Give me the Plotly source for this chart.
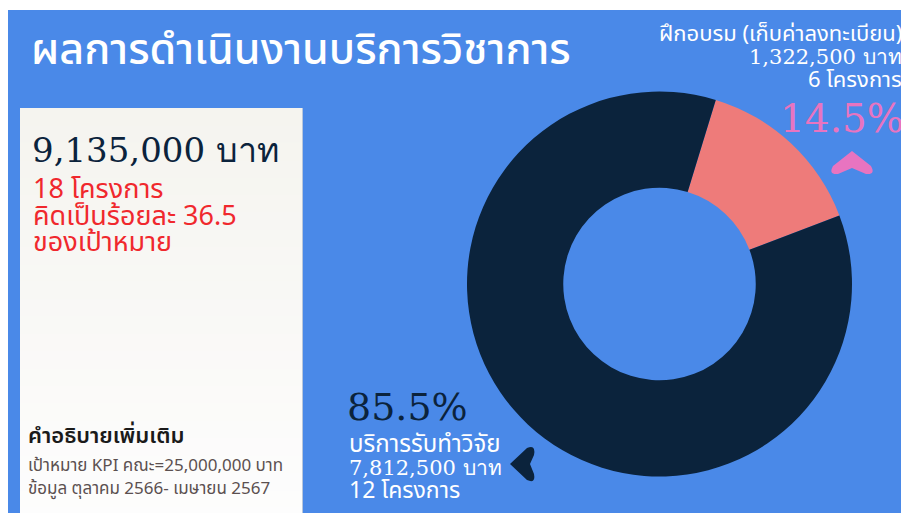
import plotly.graph_objects as go

# data
labels = ["ฝึกอบรม (เก็บค่าลงทะเบียน)", "บริการรับทำวิจัย"]
amounts = [1322500, 7812500]
projects = [6, 12]
slice_colors = ["#ee7b7a", "#0b233c"]
target = 25000000
pct_of_target = 36.5
period = "ตุลาคม 2566- เมษายน 2567"

W, H = 909, 513
OFF = 8  # page body margin, positions below are read in page pixels
BLUE = "#4a89e8"
NAVY = "#0b233c"
PINK = "#e874c0"
RED = "#f0282d"
THAI = "Noto Sans Thai, Noto Sans, sans-serif"
SLAB = "DejaVu Serif, serif"

total = sum(amounts)
shares = [a / total * 100 for a in amounts]


def px(x):
    return (x - OFF) / W


def py(y):
    return 1 - (y - OFF) / H


def path(points):
    # points in page pixels -> paper path
    out = []
    for cmd, *xy in points:
        coords = []
        for i in range(0, len(xy), 2):
            coords.append(f"{px(xy[i]):.5f},{py(xy[i + 1]):.5f}")
        out.append(cmd + " " + " ".join(coords))
    return " ".join(out) + " Z"


fig = go.Figure()

fig.add_trace(go.Pie(
    labels=labels,
    values=amounts,
    hole=0.5,
    sort=False,
    direction="clockwise",
    rotation=17,
    marker=dict(colors=slice_colors, line=dict(width=0)),
    textinfo="none",
    hoverinfo="label+value+percent",
    domain=dict(x=[px(467), px(852)], y=[py(477), py(91)]),
    showlegend=False,
))

shapes = [
    dict(type="rect", xref="paper", yref="paper", x0=0, x1=1, y0=py(10), y1=1,
         fillcolor="white", line_width=0, layer="below"),
]
# card with a soft vertical gradient (stacked bands, each running to the bottom)
n = 24
top, bottom = 108, 525
c0, c1 = (245, 244, 239), (253, 253, 253)
for i in range(n):
    t = i / (n - 1)
    col = tuple(round(c0[k] + (c1[k] - c0[k]) * t) for k in range(3))
    ya = top + (bottom - top) * i / n
    shapes.append(dict(type="rect", xref="paper", yref="paper",
                       x0=px(20), x1=px(302), y0=py(bottom), y1=py(ya),
                       fillcolor="rgb(%d,%d,%d)" % col, line_width=0, layer="below"))
shapes.append(dict(type="line", xref="paper", yref="paper", x0=px(302.5), x1=px(302.5),
                   y0=0, y1=py(108), line=dict(color="#b7c6dc", width=1), layer="below"))

# pointer marks
shapes.append(dict(type="path", xref="paper", yref="paper", fillcolor=PINK, line_width=0,
                   path=path([("M", 852, 151), ("L", 871, 166), ("Q", 876, 175, 866, 174),
                              ("L", 852, 168), ("L", 838, 174), ("Q", 828, 175, 833, 166)])))
shapes.append(dict(type="path", xref="paper", yref="paper", fillcolor=NAVY, line_width=0,
                   path=path([("M", 510, 464), ("L", 527, 448), ("Q", 536, 444, 534, 455),
                              ("L", 530, 464), ("L", 534, 474), ("Q", 536, 484, 527, 480)])))


def note(x, y, text, size, color, font=THAI, xanchor="left", weight="normal"):
    fig.add_annotation(x=px(x), y=py(y), xref="paper", yref="paper", text=text,
                       showarrow=False, xanchor=xanchor, yanchor="middle",
                       font=dict(size=size, color=color, family=font, weight=weight))


note(29, 50, "ผลการดำเนินงานบริการวิชาการ", 43, "white", weight=500)

note(30, 150, f"{total:,} บาท", 34, NAVY, SLAB)
note(31, 189, f"{sum(projects)} โครงการ", 27, RED)
note(31, 216, f"คิดเป็นร้อยละ {pct_of_target}", 27, RED)
note(31, 243, "ของเป้าหมาย", 27, RED)

note(26, 436, "คำอธิบายเพิ่มเติม", 22, "#1a1a1a", weight=600)
note(26, 466, f"เป้าหมาย KPI คณะ={target:,} บาท", 17, "#5b5050")
note(26, 489, f"ข้อมูล {period}", 17, "#5b5050")

note(345, 407, f"{shares[1]:.1f}%", 38, NAVY, SLAB)
note(347, 445, labels[1], 24, "white")
note(347, 468, f"{amounts[1]:,} บาท", 21, "white", SLAB)
note(347, 491, f"{projects[1]} โครงการ", 23, "white")

note(904, 35, labels[0], 22, "white", xanchor="right")
note(904, 57, f"{amounts[0]:,} บาท", 21, "white", SLAB, xanchor="right")
note(904, 80, f"{projects[0]} โครงการ", 22, "white", xanchor="right")
note(906, 118, f"{shares[0]:.1f}%", 39, PINK, SLAB, xanchor="right")

fig.update_layout(
    width=W, height=H,
    margin=dict(l=0, r=0, t=0, b=0),
    paper_bgcolor=BLUE,
    plot_bgcolor=BLUE,
    shapes=shapes,
    showlegend=False,
)

fig.write_html("out.html")
